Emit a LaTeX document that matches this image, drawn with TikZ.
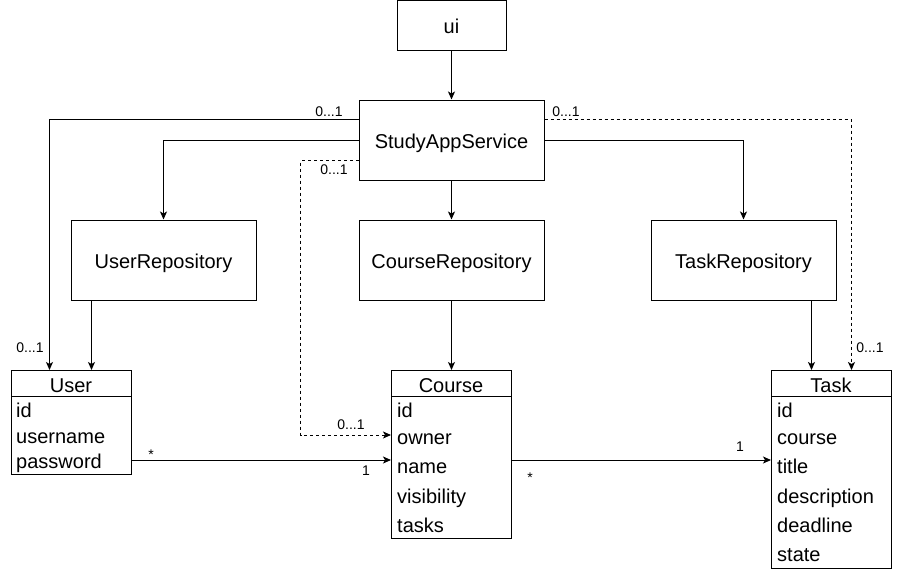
\documentclass[tikz,border=0pt]{standalone}
\usepackage{fontspec}
\setmainfont{Liberation Sans}
\usetikzlibrary{arrows.meta}

\tikzset{
  box/.style={draw, line width=1pt, minimum width=185pt, minimum height=80pt, inner sep=0pt, text height=16pt, text depth=0pt, font=\fontsize{20}{24}\selectfont},
  classbox/.style={draw, line width=1pt, minimum width=120pt, anchor=north west, inner sep=0pt},
  cname/.style={anchor=base, inner sep=0pt, font=\fontsize{20}{24}\selectfont},
  attr/.style={anchor=base west, inner sep=0pt, font=\fontsize{20}{24}\selectfont},
  mult/.style={inner sep=0pt, font=\fontsize{14}{16}\selectfont},
  conn/.style={line width=1pt, -{Stealth[length=8pt, width=7pt, inset=2pt]}},
  dconn/.style={conn, dash pattern=on 3pt off 3pt}
}

\begin{document}
\begin{tikzpicture}[x=1pt, y=-1pt]
\useasboundingbox (0,0) rectangle (903,571);

% Layers
\node[box, minimum width=109pt, minimum height=50pt] (ui) at (451.5,25) {ui};
\node[box] (svc) at (451.5,140) {StudyAppService};
\node[box] (userrepo) at (163.5,260) {UserRepository};
\node[box] (crsrepo) at (451.5,260) {CourseRepository};
\node[box] (taskrepo) at (743.5,260) {TaskRepository};

% User
\node[classbox, minimum height=104pt] (user) at (11,370) {};
\node[cname] (usertitle) at (71,392) {User};
\draw[line width=1pt] (user.west |- 0,396) -- (user.east |- 0,396);
\node[attr] (userid) at (16,417) {id};
\node[attr] (username) at (16,443) {username};
\node[attr] (userpass) at (16,468) {password};

% Course
\node[classbox, minimum height=168pt] (course) at (391,370) {};
\node[cname] (coursetitle) at (451,392) {Course};
\draw[line width=1pt] (course.west |- 0,396) -- (course.east |- 0,396);
\node[attr] (courseid) at (397,417) {id};
\node[attr] (courseowner) at (397,444) {owner};
\node[attr] (coursename) at (397,473) {name};
\node[attr] (coursevis) at (397,503) {visibility};
\node[attr] (coursetasks) at (397,532) {tasks};

% Task
\node[classbox, minimum height=198pt] (task) at (771,370) {};
\node[cname] (tasktitle) at (831,392) {Task};
\draw[line width=1pt] (task.west |- 0,396) -- (task.east |- 0,396);
\node[attr] (taskid) at (777,417) {id};
\node[attr] (taskcourse) at (777,444) {course};
\node[attr] (tasktitle2) at (777,473) {title};
\node[attr] (taskdesc) at (777,503) {description};
\node[attr] (taskdead) at (777,532) {deadline};
\node[attr] (taskstate) at (777,561) {state};

\coordinate (userin) at ([xshift=20pt]user.north);
\coordinate (userdash) at ([xshift=-22pt]user.north);
\coordinate (taskin) at ([xshift=-20pt]task.north);
\coordinate (taskdash) at ([xshift=20pt]task.north);
\coordinate (ownerin) at (391,435);
\coordinate (assoc) at (0,460);

% Connectors
\draw[conn] (ui) -- (svc);
\draw[conn] (svc) -- (crsrepo);
\draw[conn] (svc.west) -| (userrepo.north);
\draw[conn] (svc.east) -| (taskrepo.north);
\draw[conn] ([yshift=-20pt]svc.north west) -| (userdash);
\draw[dconn] ([yshift=-20pt]svc.north east) -| (taskdash);
\draw[dconn] ([yshift=20pt]svc.south west) -- ++(-58,0) |- (ownerin);
\draw[conn] (userrepo.south -| userin) -- (userin);
\draw[conn] (crsrepo) -- (course);
\draw[conn] (taskrepo.south -| taskin) -- (taskin);
\draw[conn] (user.east |- assoc) -- (course.west |- assoc);
\draw[conn] (course.east |- assoc) -- (task.west |- assoc);

% Multiplicities
\node[mult] (m1) at (329,112) {0...1};
\node[mult] (m2) at (30,348) {0...1};
\node[mult] (m3) at (334,170) {0...1};
\node[mult] (m4) at (351,425) {0...1};
\node[mult] (m5) at (566,112) {0...1};
\node[mult] (m6) at (870,348) {0...1};
\node[mult] (m7) at (151,455) {*};
\node[mult] (m8) at (366,471) {1};
\node[mult] (m9) at (530,478) {*};
\node[mult] (m10) at (740,447) {1};
\end{tikzpicture}
\end{document}
